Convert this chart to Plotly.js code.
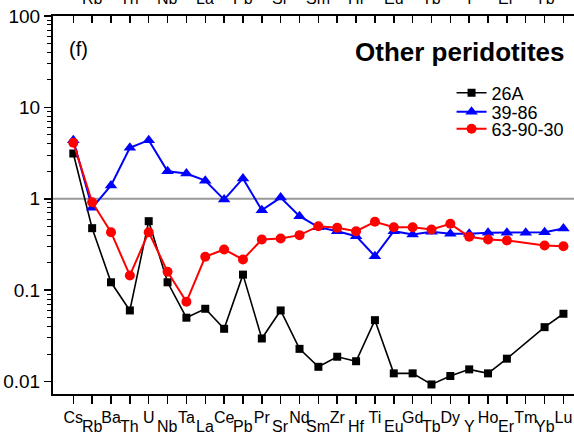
<!DOCTYPE html>
<html>
<head>
<meta charset="utf-8">
<script src="https://cdn.plot.ly/plotly-3.0.1.min.js"></script>
<style>html,body{margin:0;padding:0;background:#fff;}#chart{width:574px;height:435px;}</style>
</head>
<body>
<div id="chart"></div>
<script>
var elements = ["Cs","Rb","Ba","Th","U","Nb","Ta","La","Ce","Pb","Pr","Sr","Nd","Sm","Zr","Hf","Ti","Eu","Gd","Tb","Dy","Y","Ho","Er","Tm","Yb","Lu"];
var s26A   = [3.13,0.477,0.122,0.060,0.569,0.122,0.050,0.0626,0.0378,0.148,0.0296,0.060,0.0228,0.0145,0.0187,0.0167,0.047,0.0123,0.0123,0.0093,0.0115,0.0136,0.0123,0.0178,null,0.0394,0.0552];
var s3986  = [4.38,0.797,1.40,3.61,4.38,2.00,1.89,1.58,0.98,1.67,0.751,1.03,0.645,0.489,0.442,0.390,0.235,0.442,0.407,0.435,0.414,0.414,0.425,0.425,0.425,0.431,0.473];
var s639030= [4.10,0.918,0.431,0.145,0.431,0.159,0.0746,0.232,0.279,0.217,0.359,0.368,0.400,0.501,0.482,0.442,0.560,0.489,0.489,0.461,0.532,0.384,0.359,0.350,null,0.308,0.303];
var seriesNames = ["26A","39-86","63-90-30"];
var yTickVals = [0.01, 0.1, 1, 10, 100];
var yTickText = ["0.01","0.1","1","10","100"];
var panelLabel = "(f)";
var panelTitle = "Other peridotites";

var idx = elements.map(function(_, i){ return i; });
var oddIdx = idx.filter(function(i){ return i % 2 === 1; });
var FONT = "Liberation Sans, Arial, sans-serif";

var minorVals = [];
yTickVals.slice(0, -1).forEach(function(d){ for (var k = 2; k <= 9; k++) minorVals.push(d * k); });

var traces = [
  {x: idx, y: s26A, name: seriesNames[0], type: "scatter", mode: "lines+markers", connectgaps: true, legend: "legend",
   line: {color: "#000000", width: 1.6}, marker: {symbol: "square", size: 8, color: "#000000"}},
  {x: idx, y: s3986, name: seriesNames[1], type: "scatter", mode: "lines+markers", connectgaps: true, legend: "legend2",
   line: {color: "#0000ff", width: 2}, marker: {symbol: "triangle-up", size: 11, color: "#0000ff"}},
  {x: idx, y: s639030, name: seriesNames[2], type: "scatter", mode: "lines+markers", connectgaps: true, legend: "legend3",
   line: {color: "#ff0000", width: 2}, marker: {symbol: "circle", size: 10, color: "#ff0000"}}
];

var xr = [-1.077, 26.56];
var annotations = [
  {text: panelLabel, xref: "paper", yref: "paper", x: 0.027, y: 0.913, xanchor: "left", yanchor: "middle",
   showarrow: false, font: {family: FONT, size: 20, color: "#000"}},
  {text: "<b>" + panelTitle + "</b>", xref: "paper", yref: "paper", x: 0.985, y: 0.905, xanchor: "right", yanchor: "middle",
   showarrow: false, font: {family: FONT, size: 26, color: "#000"}}
];
oddIdx.forEach(function(i){
  annotations.push({text: elements[i], xref: "x", yref: "paper", x: i, y: 1.018, xanchor: "center", yanchor: "bottom",
    showarrow: false, font: {family: FONT, size: 16, color: "#000"}});
  annotations.push({text: elements[i], xref: "x", yref: "paper", x: i, y: -0.087, xanchor: "center", yanchor: "middle",
    showarrow: false, font: {family: FONT, size: 16, color: "#000"}});
});

function legendAt(yp) {
  return {x: 0.765, y: yp, xanchor: "left", yanchor: "middle", bgcolor: "rgba(0,0,0,0)",
          font: {family: FONT, size: 18, color: "#000"}, itemwidth: 30};
}

var layout = {
  width: 574, height: 435,
  margin: {l: 53, r: 0, t: 16, b: 41, pad: 0},
  paper_bgcolor: "#fff", plot_bgcolor: "#fff",
  font: {family: FONT, size: 16, color: "#000"},
  showlegend: true,
  legend: legendAt(0.796),
  legend2: legendAt(0.746),
  legend3: legendAt(0.701),
  xaxis: {range: xr, tickmode: "array", tickvals: idx, ticktext: idx.map(function(i){ return i % 2 === 0 ? elements[i] : ""; }),
          ticks: "outside", ticklen: 8, tickwidth: 1.5, tickcolor: "#000", showline: true, linecolor: "#000", linewidth: 2,
          showgrid: false, zeroline: false, tickfont: {family: FONT, size: 16}},
  xaxis2: {range: xr, overlaying: "x", side: "top", anchor: "y", tickmode: "array", tickvals: idx, ticktext: idx.map(function(){ return ""; }),
          ticks: "inside", ticklen: 7, tickwidth: 1.5, tickcolor: "#000", showline: true, linecolor: "#000", linewidth: 2,
          showgrid: false, zeroline: false},
  yaxis: {type: "log", range: [-2.136, 2], tickmode: "array", tickvals: yTickVals, ticktext: yTickText,
          ticks: "outside", ticklen: 7, tickwidth: 1.5, tickcolor: "#000", showline: true, linecolor: "#000", linewidth: 2,
          showgrid: false, zeroline: false, tickfont: {family: FONT, size: 19},
          minor: {tickmode: "array", tickvals: minorVals, ticks: "outside", ticklen: 4, tickwidth: 1, tickcolor: "#000", showgrid: false}},
  shapes: [{type: "line", xref: "paper", yref: "y", x0: 0, x1: 1, y0: 1, y1: 1, line: {color: "#999999", width: 2}, layer: "below"}],
  annotations: annotations
};

traces.push({x: [0], y: [1], xaxis: "x2", yaxis: "y", mode: "markers", marker: {opacity: 0}, showlegend: false, hoverinfo: "skip"});

Plotly.newPlot("chart", traces, layout, {staticPlot: true, displayModeBar: false});
</script>
</body>
</html>
